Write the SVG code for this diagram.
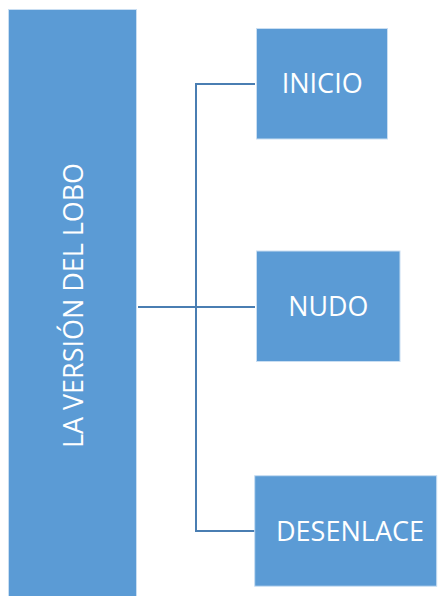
<svg xmlns="http://www.w3.org/2000/svg" width="439" height="596" viewBox="0 0 439 596">
  <style>
    .box { fill: #5b9bd5; stroke: #c9def2; stroke-width: 1; }
    .lbl { fill: #ffffff; font-family: "Open Sans", "Noto Sans", sans-serif; font-size: 28px; text-anchor: middle; }
    .conn { fill: none; stroke: #4a7eb2; stroke-width: 2; }
  </style>
  <rect width="439" height="596" fill="#ffffff"/>
  <g id="connectors">
    <path class="conn" d="M255,84 H196 V531 H255"/>
    <path class="conn" d="M138,307 H255"/>
  </g>
  <g id="node-lobo">
    <rect class="box" x="8.5" y="9.5" width="128" height="590"/>
    <text class="lbl" transform="translate(82.7,305.5) rotate(-90)" x="0" y="0" textLength="285" lengthAdjust="spacingAndGlyphs">LA VERSIÓN DEL LOBO</text>
  </g>
  <g id="node-inicio">
    <rect class="box" x="256.5" y="28.5" width="131" height="110.5"/>
    <text class="lbl" x="322.2" y="93" textLength="81" lengthAdjust="spacingAndGlyphs">INICIO</text>
  </g>
  <g id="node-nudo">
    <rect class="box" x="256.5" y="251" width="143.5" height="110.5"/>
    <text class="lbl" x="328.3" y="315.7" textLength="80" lengthAdjust="spacingAndGlyphs">NUDO</text>
  </g>
  <g id="node-desenlace">
    <rect class="box" x="254.7" y="475.7" width="182" height="110.5"/>
    <text class="lbl" x="350" y="541" textLength="148" lengthAdjust="spacingAndGlyphs">DESENLACE</text>
  </g>
</svg>
